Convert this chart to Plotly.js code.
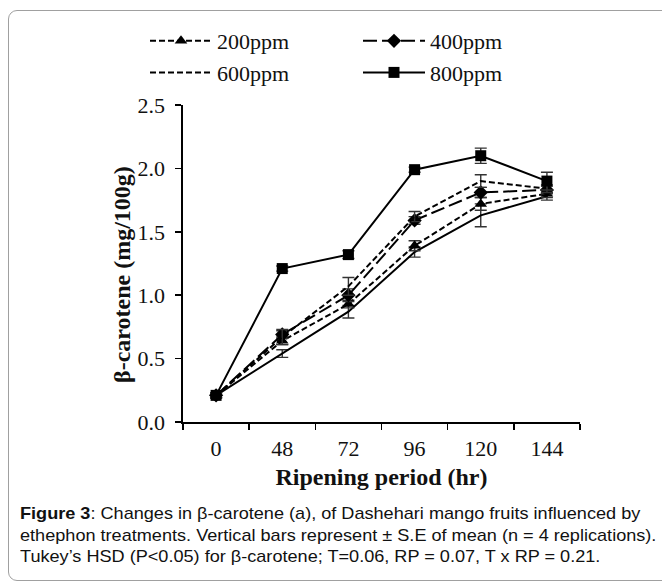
<!DOCTYPE html>
<html>
<head>
<meta charset="utf-8">
<script src="https://cdn.plot.ly/plotly-3.0.1.min.js"></script>
<style>
  html, body { margin:0; padding:0; background:#fff; width:662px; height:583px; overflow:hidden; }
  #frame { position:absolute; left:8px; top:10px; width:700px; height:571px; border:1px solid #a0a0a0; border-radius:9px; box-sizing:border-box; }
  #chart { position:absolute; left:0; top:0; width:662px; height:583px; }
  #caption { position:absolute; left:20px; top:503px; font-family:"Liberation Sans", Arial, sans-serif; font-size:17px; line-height:21.5px; color:#111; white-space:nowrap; transform:scaleX(1.065); transform-origin:0 0; }
</style>
</head>
<body>
<div id="frame"></div>
<div id="chart"></div>
<div id="caption"><b>Figure 3</b>: Changes in β-carotene (a), of Dashehari mango fruits influenced by<br>ethephon treatments. Vertical bars represent ± S.E of mean (n = 4 replications).<br>Tukey’s HSD (P&lt;0.05) for β-carotene; T=0.06, RP = 0.07, T x RP = 0.21.</div>
<script>
const periods = ["0", "48", "72", "96", "120", "144"];
const yTicks = [0, 0.5, 1.0, 1.5, 2.0, 2.5];
const yTickLabels = ["0.0", "0.5", "1.0", "1.5", "2.0", "2.5"];

const control = [0.21, 0.54, 0.87, 1.34, 1.63, 1.78];
const controlSE = [0.02, 0.03, 0.05, 0.04, 0.09, 0.03];
const ppm200 = [0.21, 0.64, 0.93, 1.39, 1.72, 1.80];
const ppm200SE = [0.02, 0.03, 0.03, 0.04, 0.05, 0.03];
const ppm400 = [0.21, 0.69, 1.00, 1.59, 1.81, 1.83];
const ppm400SE = [0.02, 0.03, 0.05, 0.03, 0.04, 0.03];
const ppm600 = [0.21, 0.67, 1.07, 1.62, 1.90, 1.84];
const ppm600SE = [0.02, 0.06, 0.07, 0.04, 0.05, 0.03];
const ppm800 = [0.21, 1.21, 1.32, 1.99, 2.10, 1.90];
const ppm800SE = [0.02, 0.02, 0.03, 0.02, 0.06, 0.07];

function eb(arr) {
  return { type:'data', array:arr, visible:true, color:'#333', thickness:1.4, width:6 };
}

const traces = [
  { name:'control', x:periods, y:control, error_y:eb(controlSE), mode:'lines',
    line:{color:'#000', width:2}, showlegend:false },
  { name:'200ppm', x:periods, y:ppm200, error_y:eb(ppm200SE), mode:'lines+markers',
    line:{color:'#000', width:2, dash:'6px,3px'}, marker:{symbol:'triangle-up', size:11, color:'#000'}, legend:'legend' },
  { name:'400ppm', x:periods, y:ppm400, error_y:eb(ppm400SE), mode:'lines+markers',
    line:{color:'#000', width:2, dash:'14px,5px'}, marker:{symbol:'diamond', size:11, color:'#000'}, legend:'legend2' },
  { name:'600ppm', x:periods, y:ppm600, error_y:eb(ppm600SE), mode:'lines',
    line:{color:'#000', width:2, dash:'6px,3px'}, legend:'legend' },
  { name:'800ppm', x:periods, y:ppm800, error_y:eb(ppm800SE), mode:'lines+markers',
    line:{color:'#000', width:2}, marker:{symbol:'square', size:11, color:'#000'}, legend:'legend2' }
];

const tfont = {family:'"Liberation Serif", "Times New Roman", serif', color:'#111'};

const layout = {
  width:662, height:583,
  margin:{l:183, r:82, t:105, b:161, pad:0},
  paper_bgcolor:'rgba(0,0,0,0)', plot_bgcolor:'rgba(0,0,0,0)',
  font:Object.assign({size:22}, tfont),
  xaxis:{
    type:'category', range:[-0.5, 5.5], tickvals:periods, ticktext:periods,
    tickson:'boundaries', ticks:'outside', ticklen:6, tickwidth:1.5, tickcolor:'#000',
    showline:true, linecolor:'#000', linewidth:1.6, showgrid:false, zeroline:false,
    ticklabelstandoff:6,
    tickfont:Object.assign({size:22}, tfont),
    title:{text:'<b>Ripening period (hr)</b>', font:Object.assign({size:24}, tfont), standoff:8}
  },
  yaxis:{
    range:[0, 2.5], tickvals:yTicks, ticktext:yTickLabels,
    ticks:'outside', ticklen:6, tickwidth:1.5, tickcolor:'#000',
    showline:true, linecolor:'#000', linewidth:1.6, showgrid:false, zeroline:false,
    ticklabelstandoff:6,
    tickfont:Object.assign({size:22}, tfont)
  },
  annotations:[
    { text:'<b>β-carotene (mg/100g)</b>', textangle:-90, xref:'paper', yref:'paper',
      x:(122-183)/397, y:(422-275)/317, xanchor:'center', yanchor:'middle', showarrow:false,
      font:Object.assign({size:24}, tfont) }
  ],
  legend:{
    x:(145-183)/397, y:(422-20)/317, xanchor:'left', yanchor:'top', orientation:'v',
    bgcolor:'rgba(0,0,0,0)', font:Object.assign({size:22}, tfont), itemwidth:62,
    tracegroupgap:0
  },
  legend2:{
    x:(358-183)/397, y:(422-20)/317, xanchor:'left', yanchor:'top', orientation:'v',
    bgcolor:'rgba(0,0,0,0)', font:Object.assign({size:22}, tfont), itemwidth:62,
    tracegroupgap:0
  }
};

Plotly.newPlot('chart', traces, layout, {staticPlot:true, displayModeBar:false});
</script>
</body>
</html>
